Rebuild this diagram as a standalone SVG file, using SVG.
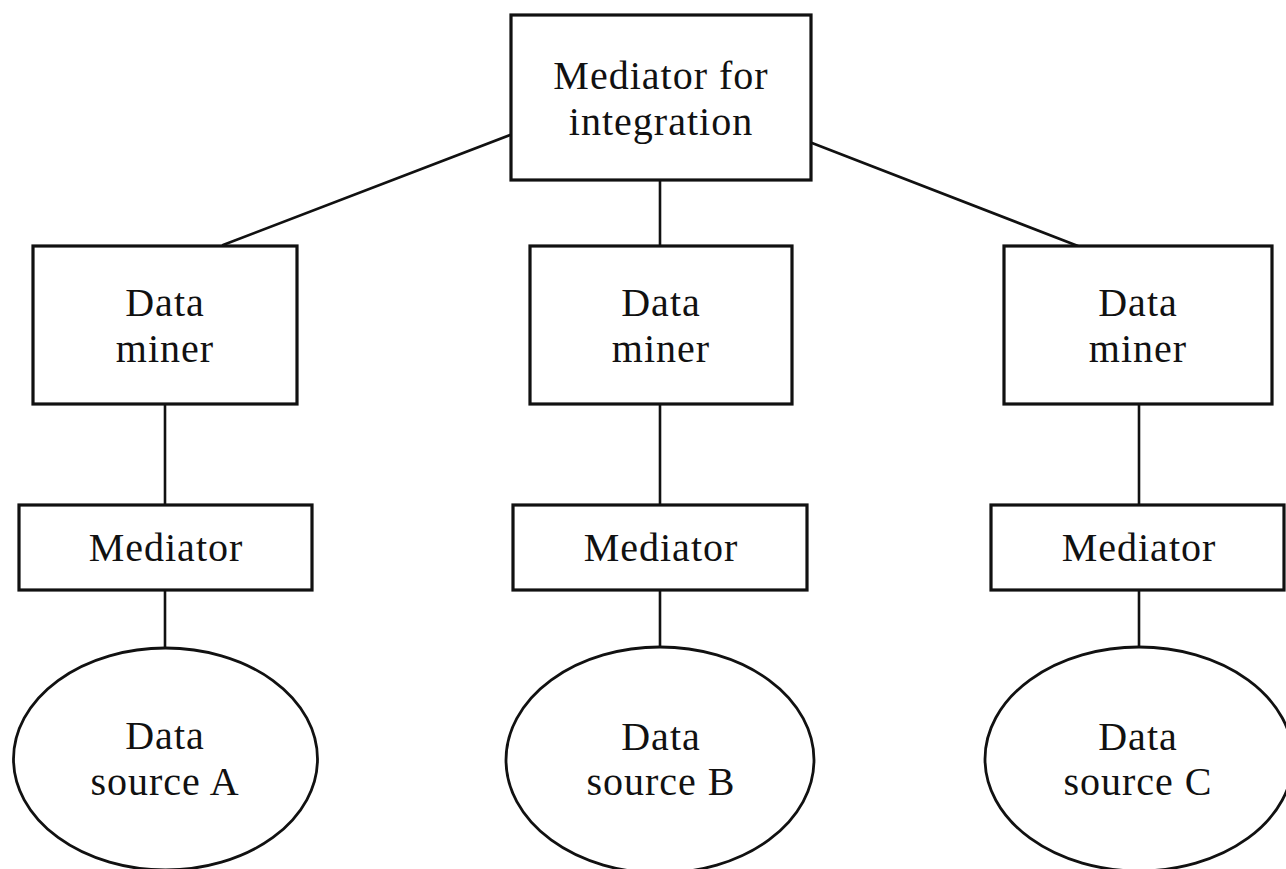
<svg xmlns="http://www.w3.org/2000/svg" width="1286" height="869" viewBox="0 0 1286 869">
  <style>
    .box { fill: #fff; stroke: #111; stroke-width: 3.2; }
    .src { fill: #fff; stroke: #111; stroke-width: 2.8; }
    .link { stroke: #111; stroke-width: 2.6; fill: none; stroke-linecap: round; }
    .lbl { font-family: "Liberation Serif", "Times New Roman", serif; font-size: 40px; letter-spacing: 1px; fill: #111; text-anchor: middle; }
  </style>
  <rect width="1286" height="869" fill="#fff"/>

  <g id="connectors">
    <line class="link" x1="510" y1="135" x2="223" y2="245"/>
    <line class="link" x1="812" y1="143" x2="1078" y2="246"/>
    <line class="link" x1="660" y1="180" x2="660" y2="246"/>
    <line class="link" x1="165" y1="404" x2="165" y2="505"/>
    <line class="link" x1="660" y1="404" x2="660" y2="505"/>
    <line class="link" x1="1139" y1="404" x2="1139" y2="505"/>
    <line class="link" x1="165" y1="590" x2="165" y2="648"/>
    <line class="link" x1="660" y1="590" x2="660" y2="647"/>
    <line class="link" x1="1139" y1="590" x2="1139" y2="647"/>
  </g>

  <g id="mediator-integration">
    <rect class="box" x="511" y="15" width="300" height="165"/>
    <text class="lbl" x="661" y="89">Mediator for</text>
    <text class="lbl" x="661" y="135">integration</text>
  </g>

  <g id="miner-a">
    <rect class="box" x="33" y="246" width="264" height="158"/>
    <text class="lbl" x="165" y="316">Data</text>
    <text class="lbl" x="165" y="362">miner</text>
  </g>
  <g id="miner-b">
    <rect class="box" x="530" y="246" width="262" height="158"/>
    <text class="lbl" x="661" y="316">Data</text>
    <text class="lbl" x="661" y="362">miner</text>
  </g>
  <g id="miner-c">
    <rect class="box" x="1004" y="246" width="268" height="158"/>
    <text class="lbl" x="1138" y="316">Data</text>
    <text class="lbl" x="1138" y="362">miner</text>
  </g>

  <g id="mediator-a">
    <rect class="box" x="19" y="505" width="293" height="85"/>
    <text class="lbl" x="166" y="561">Mediator</text>
  </g>
  <g id="mediator-b">
    <rect class="box" x="513" y="505" width="294" height="85"/>
    <text class="lbl" x="661" y="561">Mediator</text>
  </g>
  <g id="mediator-c">
    <rect class="box" x="991" y="505" width="293" height="85"/>
    <text class="lbl" x="1139" y="561">Mediator</text>
  </g>

  <g id="source-a">
    <ellipse class="src" cx="165.5" cy="759" rx="152" ry="111"/>
    <text class="lbl" x="165" y="749">Data</text>
    <text class="lbl" x="165" y="795">source A</text>
  </g>
  <g id="source-b">
    <ellipse class="src" cx="660" cy="760" rx="154" ry="113"/>
    <text class="lbl" x="661" y="750">Data</text>
    <text class="lbl" x="661" y="795">source B</text>
  </g>
  <g id="source-c">
    <ellipse class="src" cx="1139" cy="759" rx="154" ry="112"/>
    <text class="lbl" x="1138" y="750">Data</text>
    <text class="lbl" x="1138" y="795">source C</text>
  </g>
</svg>
